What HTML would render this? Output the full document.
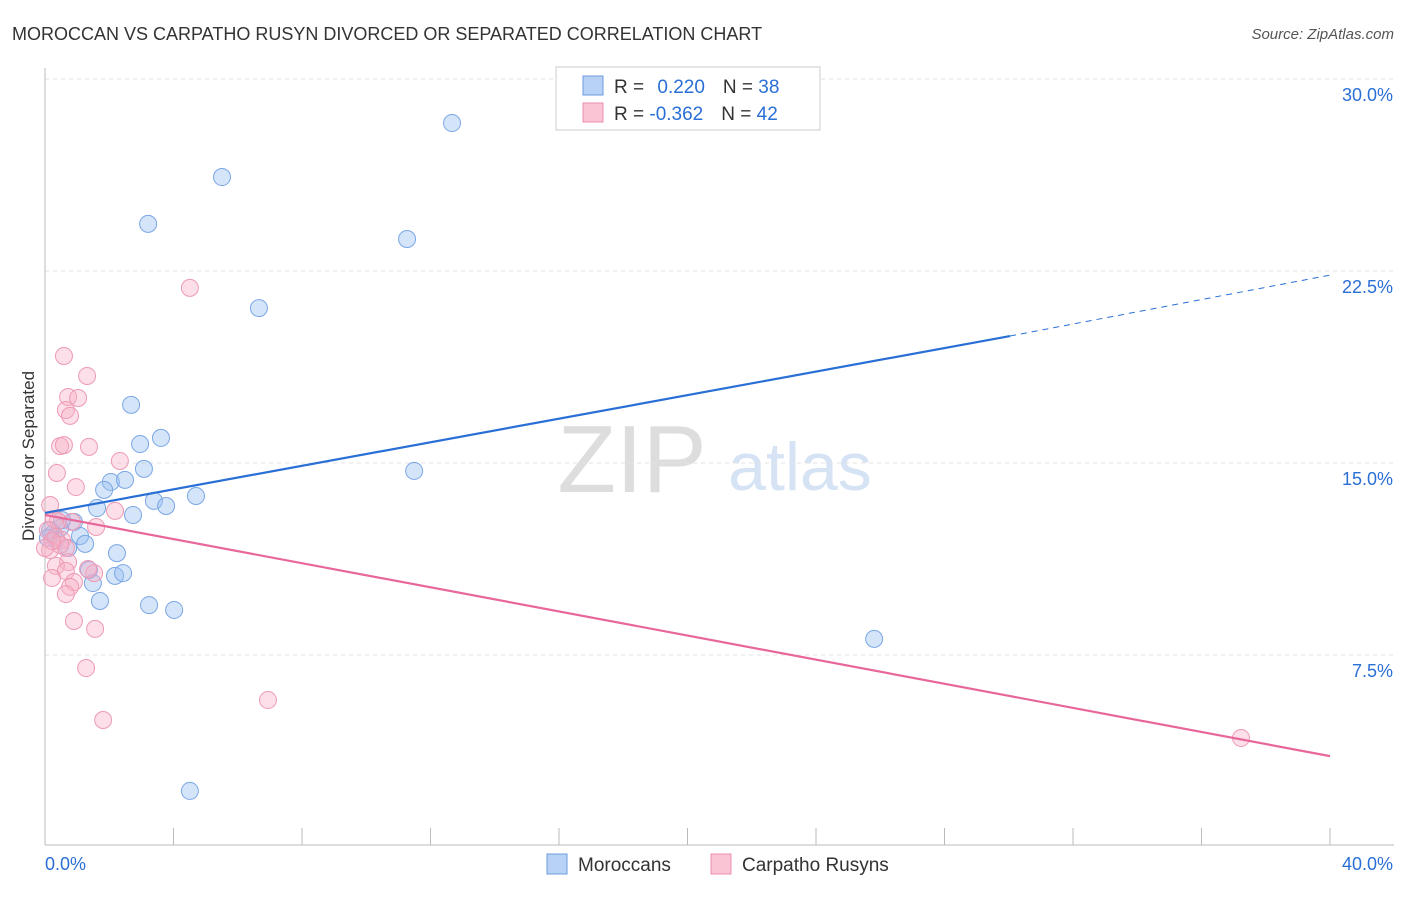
<!DOCTYPE html>
<html><head><meta charset="utf-8"><style>
body{margin:0;background:#fff;font-family:"Liberation Sans",sans-serif;}
svg text{font-family:"Liberation Sans",sans-serif;}
</style></head><body>
<svg id="c" width="1406" height="892" xmlns="http://www.w3.org/2000/svg">
<text x="12" y="40" font-size="18" fill="#333">MOROCCAN VS CARPATHO RUSYN DIVORCED OR SEPARATED CORRELATION CHART</text>
<text x="1394" y="39" font-size="15" fill="#555" text-anchor="end" font-style="italic">Source: ZipAtlas.com</text>
<text x="34" y="456" font-size="17" fill="#333" text-anchor="middle" transform="rotate(-90 34 456)">Divorced or Separated</text>
<text x="632" y="492" font-size="96" fill="#ddd" font-family="Liberation Serif" text-anchor="middle">ZIP</text>
<text x="800" y="490" font-size="68" fill="#d6e3f5" text-anchor="middle">atlas</text>
<g id="grid"></g><g id="axes"></g><g id="marks"></g>
<g>
<rect x="556" y="67" width="264" height="63" fill="#fff" stroke="#ccc"/>
<rect x="583" y="76" width="20" height="19" fill="#b8d2f5" stroke="#6b9be0"/>
<rect x="583" y="103" width="20" height="19" fill="#fac4d4" stroke="#ec8fac"/>
<text x="614" y="93" font-size="19" fill="#333">R = <tspan fill="#2a6fd6" dx="8">0.220</tspan><tspan dx="18">N = </tspan><tspan fill="#2a6fd6">38</tspan></text>
<text x="614" y="120" font-size="19" fill="#333">R = <tspan fill="#2a6fd6">-0.362</tspan><tspan dx="18">N = </tspan><tspan fill="#2a6fd6">42</tspan></text>
</g>
<g>
<rect x="547" y="854" width="20" height="20" fill="#b8d2f5" stroke="#6b9be0"/>
<text x="578" y="871" font-size="19" fill="#333">Moroccans</text>
<rect x="711" y="854" width="20" height="20" fill="#fac4d4" stroke="#ec8fac"/>
<text x="742" y="871" font-size="19" fill="#333">Carpatho Rusyns</text>
</g>
</svg>
<script>
const yTicks=[7.5,15,22.5,30];
const yTickLabels=["7.5%","15.0%","22.5%","30.0%"];
const xTickLabels=["0.0%","40.0%"];
const blueX=[12.67,5.51,3.21,11.27,6.66,2.68,3.61,2.96,3.08,11.49,2.05,2.49,1.84,4.70,3.39,3.77,1.62,2.74,0.90,0.47,0.25,1.09,0.34,1.25,0.72,2.24,1.37,2.18,2.43,1.49,1.71,3.24,4.02,25.81,4.51,0.16,0.53,0.09];
const blueY=[28.28,26.17,24.34,23.75,21.05,17.27,15.98,15.74,14.77,14.69,14.26,14.34,13.95,13.71,13.52,13.32,13.24,12.97,12.70,12.46,12.23,12.15,11.99,11.84,11.68,11.48,10.82,10.59,10.70,10.31,9.61,9.45,9.26,8.13,2.19,12.38,12.77,12.07];
const pinkX=[4.51,0.59,1.31,0.72,1.03,0.65,0.78,0.47,0.59,1.37,2.33,0.37,0.96,0.16,2.18,0.28,0.40,0.84,1.59,0.09,0.34,0.53,0.65,0.16,0.72,0.34,1.53,0.65,1.34,0.22,0.90,0.78,0.65,0.90,1.56,1.28,6.94,1.81,37.23,0.47,0.22,0.0];
const pinkY=[21.84,19.18,18.40,17.58,17.54,17.07,16.84,15.66,15.70,15.63,15.08,14.61,14.06,13.36,13.13,12.81,12.73,12.70,12.50,12.38,12.11,11.99,11.68,11.60,11.13,10.98,10.70,10.78,10.86,10.51,10.35,10.16,9.88,8.83,8.52,6.99,5.74,4.96,4.26,11.80,11.95,11.68];
const blueTrend=[13.05,19.96,22.34]; // at x=0, 30.04, 40
const blueTrendX=[0,30.04,40];
const pinkTrend=[12.97,3.55];
const pinkTrendX=[0,40];
const NS="http://www.w3.org/2000/svg";
const xs=v=>45+v*32.125, ys=v=>847-v*25.6;
function mk(t,a,p){const e=document.createElementNS(NS,t);for(const k in a)e.setAttribute(k,a[k]);document.getElementById(p).appendChild(e);return e;}
yTicks.forEach((t,i)=>{
 const g=mk('line',{x1:45,x2:1394,y1:ys(t),y2:ys(t),stroke:'#e3e3e3','stroke-dasharray':'4,4'},'grid');
 
 
 const l=mk('text',{x:1393,y:ys(t)+22,'font-size':18,fill:'#2a6fd6','text-anchor':'end'},'grid');
 l.textContent=yTickLabels[i];
 
 
});
const ax=mk('line',{x1:45,x2:45,y1:68,y2:845,stroke:'#bbb'},'axes');


const bx=mk('line',{x1:45,x2:1394,y1:845,y2:845,stroke:'#bbb'},'axes');


for(let i=0;i<=10;i++){const t=mk('line',{x1:xs(i*4),x2:xs(i*4),y1:828,y2:845,stroke:'#bbb'},'axes');
 
 }
[0,40].forEach((v,i)=>{const l=mk('text',{x:i?1393:45,y:870,'font-size':18,fill:'#2a6fd6','text-anchor':i?'end':'start'},'axes');
 l.textContent=xTickLabels[i];
 
 });
blueX.forEach((v,i)=>{const c=mk('circle',{cx:xs(v),cy:ys(blueY[i]),r:8.5,fill:'rgba(150,190,240,0.4)',stroke:'#7aa6e6','stroke-width':1},'marks');
 
 });
pinkX.forEach((v,i)=>{const c=mk('circle',{cx:xs(v),cy:ys(pinkY[i]),r:8.5,fill:'rgba(248,175,198,0.4)',stroke:'#ee9ab5','stroke-width':1},'marks');
 
 });
const b1=mk('line',{x1:xs(blueTrendX[0]),y1:ys(blueTrend[0]),x2:xs(blueTrendX[1]),y2:ys(blueTrend[1]),stroke:'#2a6fd6','stroke-width':2.2},'marks');


const b2=mk('line',{x1:xs(blueTrendX[1]),y1:ys(blueTrend[1]),x2:xs(blueTrendX[2]),y2:ys(blueTrend[2]),stroke:'#2a6fd6','stroke-width':1,'stroke-dasharray':'6,5'},'marks');


const p1=mk('line',{x1:xs(pinkTrendX[0]),y1:ys(pinkTrend[0]),x2:xs(pinkTrendX[1]),y2:ys(pinkTrend[1]),stroke:'#e8679a','stroke-width':2.2},'marks');


</script>
</body></html>
